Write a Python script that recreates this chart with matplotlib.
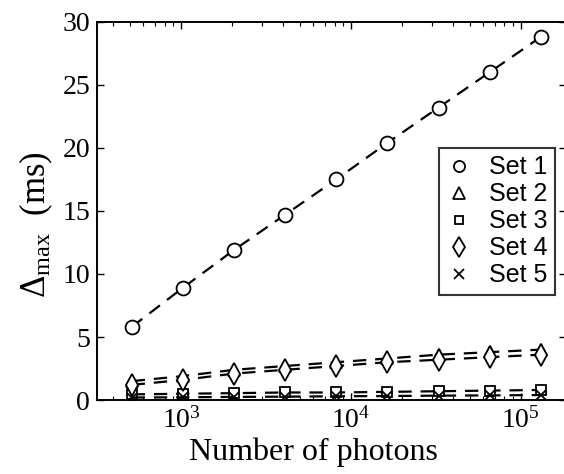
import numpy as np
import matplotlib
matplotlib.use("Agg")
import matplotlib.pyplot as plt

plt.rcParams['font.family'] = ['Liberation Serif', 'DejaVu Serif']
plt.rcParams['mathtext.fontset'] = 'custom'
plt.rcParams['mathtext.rm'] = 'Liberation Serif'
plt.rcParams['mathtext.it'] = 'Liberation Serif:italic'

photons = [512, 1024, 2048, 4096, 8192, 16384, 32768, 65536, 131072]
set1 = [5.8, 8.9, 11.9, 14.7, 17.5, 20.4, 23.2, 26.0, 28.8]
set2 = [1.5, 1.9, 2.4, 2.7, 3.0, 3.3, 3.6, 3.8, 4.0]
set3 = [0.45, 0.5, 0.55, 0.6, 0.6, 0.65, 0.7, 0.75, 0.8]
set4 = [1.2, 1.6, 2.1, 2.4, 2.7, 3.0, 3.2, 3.4, 3.6]
set5 = [0.2, 0.22, 0.25, 0.27, 0.3, 0.32, 0.35, 0.37, 0.4]

labels = ["Set 1", "Set 2", "Set 3", "Set 4", "Set 5"]
markers = ["o", "^", "s", "d", "x"]
msizes = [10, 9, 7, 11, 7]

fig = plt.figure(figsize=(5.64, 4.74), dpi=100)
ax = fig.add_axes([0.172, 0.156, 0.832, 0.798])

handles = []
for vals, m, ms, lab in zip([set1, set2, set3, set4, set5], markers, msizes, labels):
    ax.plot(photons, vals, color="black", lw=1.6, linestyle=(0, (6, 4)))
    h, = ax.plot(photons, vals, linestyle="none", marker=m, ms=ms,
                 mfc="white" if m != "x" else "black", mec="black", mew=1.3,
                 label=lab)
    handles.append(h)

ax.set_xscale("log")
ax.set_xlim(320, 1.85e5)
ax.set_ylim(0, 30)
ax.set_yticks([0, 5, 10, 15, 20, 25, 30])

ax.tick_params(which="both", direction="in", top=True, right=True, labelsize=20)
ax.tick_params(which="major", length=5, width=1, pad=5)
ax.tick_params(which="minor", length=3, width=0.8)
for s in ax.spines.values():
    s.set_linewidth(1.4)

ax.set_xlabel("Number of photons", fontsize=23)
ax.set_ylabel(r"$\Delta_{\mathrm{max}}$  (ms)", fontsize=25)
ax.xaxis.set_label_coords(0.461, -0.10)
ax.yaxis.set_label_coords(-0.09, 0.465)

leg = ax.legend(handles=handles, loc="upper right", bbox_to_anchor=(0.976, 0.667),
                prop={"family": "Liberation Sans", "size": 18},
                frameon=True, fancybox=False, edgecolor="black",
                labelspacing=0.12, handlelength=1.0, handletextpad=0.7,
                borderpad=0.3, borderaxespad=0)
leg.get_frame().set_linewidth(1.5)
for h, ms in zip(leg.legend_handles, [8, 8, 6, 10, 7]):
    h.set_markersize(ms)

fig.savefig("out.png", dpi=100)
